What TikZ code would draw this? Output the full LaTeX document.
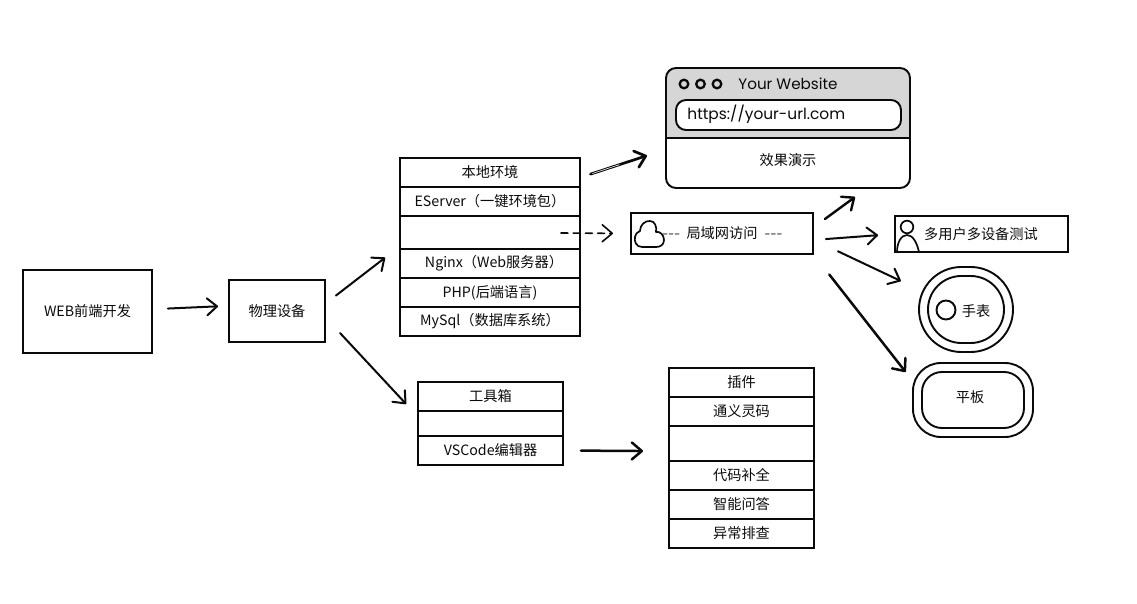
\documentclass[tikz,border=0pt]{standalone}
\usepackage{fontspec}
\setmainfont{Noto Sans CJK SC}
\newfontfamily\handfont{Poppins}
\usetikzlibrary{arrows.meta}
\definecolor{headgrey}{HTML}{D6D6D6}
\definecolor{inkblack}{HTML}{0A0A0A}
\tikzset{
  txt/.style={font=\fontsize{7.1}{8.5}\selectfont,text=inkblack,inner sep=0pt},
  flat/.style={draw=inkblack,line width=0.95pt,inner sep=0pt,txt},
  arr/.style={draw=inkblack,line width=1pt,line cap=round,-{Straight Barb[length=5pt,width=8.5pt,round]}},
  arrheavy/.style={arr,line width=1.25pt},
  arrdash/.style={arr,line width=0.8pt,dash pattern=on 3.5pt off 2.6pt},
  ink/.style={draw=inkblack,line width=0.95pt},
}
\newcommand{\bx}[7][flat]{\node[#1,minimum width={(#5-#3)*0.5pt},minimum height={(#6-#4)*0.5pt}] (#2) at ({(#3+#5)/2},{(#4+#6)/2}) {#7};}
\newcommand{\dashrun}{{\handfont\fontsize{5.5}{7}\selectfont -{}-{}-}}
\begin{document}
\begin{tikzpicture}[x=0.5pt,y=-0.5pt]
\useasboundingbox (0,0) rectangle (1137,604);
% left boxes
\bx{web}{23}{270}{152}{353}{WEB前端开发}
\bx{dev}{229}{280}{325}{342}{物理设备}
% environment stack
\bx{envtitle}{400}{158}{580}{187}{本地环境}
\bx{eserver}{400}{187}{580}{216}{EServer（一键环境包）\hspace{5pt}}
\bx{envblank}{400}{216}{580}{249}{}
\bx{nginx}{400}{249}{580}{278}{\hspace{4pt}Nginx（Web服务器）}
\bx{php}{400}{278}{580}{307}{PHP(后端语言)}
\bx{mysql}{400}{307}{580}{336}{MySql（数据库系统）\hspace{4pt}}
% tools stack
\bx{tooltitle}{418}{382}{563}{411}{工具箱}
\bx{toolblank}{418}{411}{563}{436}{}
\bx{vscode}{418}{436}{563}{465}{VSCode编辑器}
% plugin stack
\bx{plugtitle}{669}{368}{814}{397}{插件}
\bx{tongyi}{669}{397}{814}{426}{通义灵码}
\bx{plugblank}{669}{426}{814}{461}{}
\bx{complete}{669}{461}{814}{490}{代码补全}
\bx{answer}{669}{490}{814}{519}{智能问答}
\bx{debug}{669}{519}{814}{548}{异常排查}
% browser
\fill[headgrey,rounded corners=5pt] (666,138) -- (666,68) -- (910,68) [sharp corners] -- (910,138) -- cycle;
\bx[flat,rounded corners=5pt]{browser}{666}{68}{910}{188}{}
\draw[ink] (666,138) -- (910,138);
\foreach \cx/\nm in {684/dota,700.5/dotb,717/dotc}
  \node[draw=inkblack,line width=1.15pt,circle,minimum size=4.3pt,inner sep=0pt] (\nm) at (\cx,84) {};
\node[txt,font=\handfont\fontsize{7.6}{9}\selectfont,anchor=west] (sitetitle) at (738,84) {Your Website};
\bx[flat,rounded corners=5pt,fill=white]{urlbar}{676}{100}{901}{130}{}
\node[txt,font=\handfont\fontsize{7.7}{9}\selectfont,anchor=west] (urltext) at (687,114.5) {https://your-url.com};
\node[txt] (demo) at (788,160) {效果演示};
% LAN box
\bx{lan}{631}{213}{813}{254}{}
\node[txt] (lantext) at (722.5,233) {\dashrun\hspace{3pt}局域网访问\hspace{3.5pt}\dashrun};
\draw[inkblack,line width=0.85pt,line join=round] (642,247) .. controls (636,247) and (634,241) .. (635,237) .. controls (636,233) and (638,232) .. (640,231) .. controls (640,225) and (645,220.5) .. (650,221) .. controls (655,221) and (657,227) .. (656,232) .. controls (660,231) and (664,235) .. (664,240) .. controls (664,245) and (660,247) .. (656,247) -- cycle;
% multi user
\bx{multi}{895}{216}{1068}{252}{}
\node[txt] (multitext) at (981,234) {多用户多设备测试};
\draw[ink,line width=0.85pt] (907,227) circle (6.3);
\draw[ink,line width=0.85pt] (897,252) .. controls (897,243) and (901,235) .. (907,235) .. controls (913,235) and (917,243) .. (919,252);
% watch
\bx[flat,rounded corners=21.2pt]{watch}{919}{267}{1013}{352}{}
\bx[flat,rounded corners=16.7pt]{watchin}{928}{276}{1004}{343}{}
\node[draw=inkblack,line width=0.95pt,circle,minimum size=9.5pt,inner sep=0pt] (watchface) at (946,310) {};
\node[txt] (watchtext) at (976,311) {手表};
% tablet
\bx[flat,rounded corners=14pt]{tablet}{913}{363}{1033}{437}{}
\bx[flat,rounded corners=10pt]{tabletin}{922}{372}{1024}{428}{}
\node[txt] (tablettext) at (970,397) {平板};
% connectors
\draw[arr,shorten <=7.5pt,shorten >=5pt] (web.2) -- (dev.174);
\draw[arr,shorten <=6.3pt,shorten >=8.8pt] (dev.9) -- (envblank.189);
\draw[arr,shorten <=10.4pt,shorten >=8pt] (dev.-8) -- (toolblank.174);
\draw[arr,line width=1.35pt,shorten <=5pt,shorten >=9.5pt] (envtitle.-3) -- (browser.190);
\draw[white,line width=0.3pt,shorten <=6pt,shorten >=24pt] (envtitle.-3) -- (browser.190);
\draw[arrdash,shorten <=35.5pt,shorten >=8.5pt] (envblank.center) -- (lan.west);
\draw[arr,line width=1.25pt,shorten <=8.5pt,shorten >=12.5pt] (vscode.east) -- (plugblank.186);
\draw[arr,line width=1.2pt,shorten <=6.8pt,shorten >=6.8pt] (lan.4) -- (browser.-38);
\draw[arr,shorten <=6pt,shorten >=8pt] (lan.-4) -- (multi.west);
\draw[arr,shorten <=13.3pt,shorten >=9.5pt] (lan.-4) -- (watch.157);
\draw[arrheavy,shorten <=12.4pt,shorten >=5.2pt] (lan.south east) -- (tablet.162);
\end{tikzpicture}
\end{document}
